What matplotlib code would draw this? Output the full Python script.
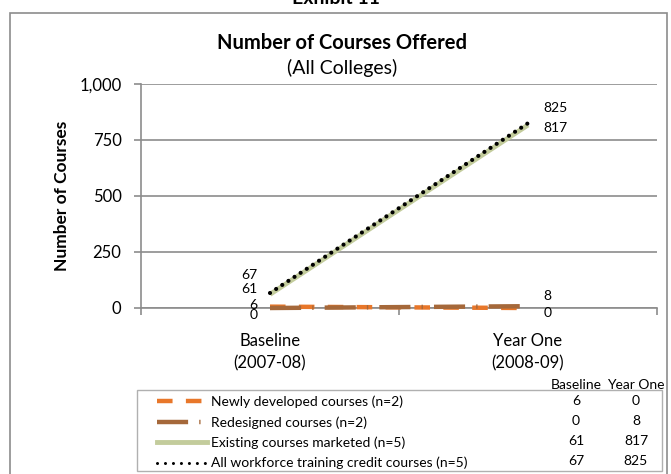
import matplotlib
matplotlib.use("Agg")
import matplotlib.pyplot as plt
from matplotlib.lines import Line2D
from matplotlib.patches import Rectangle

plt.rcParams['font.family'] = ['Lato', 'DejaVu Sans']

categories = ["Baseline\n(2007-08)", "Year One\n(2008-09)"]
col_headers = ["Baseline", "Year One"]
series_names = ["Newly developed courses (n=2)", "Redesigned courses (n=2)",
                "Existing courses marketed (n=5)", "All workforce training credit courses (n=5)"]
newly = [6, 0]
redesigned = [0, 8]
existing = [61, 817]
allcourses = [67, 825]
yticks = [0, 250, 500, 750, 1000]
ytick_labels = ["0", "250", "500", "750", "1,000"]

W, H = 671, 474
fig = plt.figure(figsize=(W / 100, H / 100), dpi=100)

def fx(px):
    return px / W

def fy(py):
    return 1 - py / H

ORANGE = '#E8772A'
BROWN = '#A5683A'
OLIVE = '#C3CC9C'
GRID = '#8c8c8c'
DASH_NEW = (3.5, 3.0)
DASH_RED = (7, 2.5, 0.3, 2.5)

# outer chart frame
fig.patches.append(Rectangle((fx(10), fy(480)), fx(667) - fx(10), fy(13) - fy(480),
                             transform=fig.transFigure, fill=False, edgecolor=GRID, lw=1.2))
fig.text(0.5, fy(3.5), "Exhibit 11", ha='center', va='baseline', fontsize=14, fontweight='bold')

ax = fig.add_axes([fx(141), fy(308), fx(657) - fx(141), fy(84) - fy(308)])

x = [0, 1]
ax.plot(x, newly, color=ORANGE, lw=3.2, dashes=DASH_NEW, solid_capstyle='butt', zorder=3, clip_on=False)
ax.plot(x, redesigned, color=BROWN, lw=3.2, dashes=DASH_RED, zorder=3, clip_on=False)
ax.plot(x, existing, color=OLIVE, lw=3.5, solid_capstyle='butt', zorder=3, clip_on=False)
ax.plot(x, allcourses, color='black', lw=3.0, dashes=(0.01, 1.75), dash_capstyle='round', zorder=4, clip_on=False)

ax.set_xlim(-0.5, 1.5)
ax.set_ylim(0, 1000)
ax.set_yticks(yticks)
ax.set_yticklabels(ytick_labels, fontsize=12)
ax.set_xticks([-0.5, 0.5, 1.5])
ax.set_xticklabels([])
ax.set_xticks(x, minor=True)
ax.set_xticklabels(categories, minor=True, fontsize=12, linespacing=1.45)
ax.tick_params(axis='x', which='minor', length=0, pad=18)
ax.tick_params(axis='x', which='major', length=5, color=GRID, width=1.2)
ax.tick_params(axis='y', length=5, color=GRID, width=1.2, pad=9)
ax.grid(axis='y', color=GRID, lw=1.2)
ax.set_axisbelow(True)
for s in ['top', 'right']:
    ax.spines[s].set_visible(False)
for s in ['left', 'bottom']:
    ax.spines[s].set_color(GRID)
    ax.spines[s].set_linewidth(1.2)
ax.set_ylabel("Number of Courses", fontsize=12.5, fontweight='bold', labelpad=7)

# data labels
lab_fs = 10
base_offsets = {"all": (-9, 13), "existing": (-9, 3.8), "newly": (-9, 1.2), "redesigned": (-9, -5)}
year_offsets = {"all": (11, 11), "existing": (11, -2.5), "newly": (11, -3.8), "redesigned": (11, 7)}
for key, vals in [("all", allcourses), ("existing", existing), ("newly", newly), ("redesigned", redesigned)]:
    ax.annotate(str(vals[0]), (0, vals[0]), xytext=base_offsets[key], textcoords='offset points',
                ha='right', va='center', fontsize=lab_fs)
    ax.annotate(str(vals[1]), (1, vals[1]), xytext=year_offsets[key], textcoords='offset points',
                ha='left', va='center', fontsize=lab_fs)

fig.text(fx(342), fy(43), "Number of Courses Offered", ha='center', va='center', fontsize=14.5, fontweight='bold')
fig.text(fx(342), fy(68), "(All Colleges)", ha='center', va='center', fontsize=14)

# legend with data table
fig.patches.append(Rectangle((fx(137), fy(471)), fx(662) - fx(137), fy(390) - fy(471),
                             transform=fig.transFigure, fill=False, edgecolor='#b0b0b0', lw=1.0))
handles = [
    Line2D([], [], color=ORANGE, lw=3.2, dashes=DASH_NEW, solid_capstyle='butt'),
    Line2D([], [], color=BROWN, lw=3.2, dashes=DASH_RED),
    Line2D([], [], color=OLIVE, lw=3.5),
    Line2D([], [], color='black', lw=2.2, dashes=(0.01, 2.6), dash_capstyle='round'),
]
leg = fig.legend(handles, series_names, loc='upper left', bbox_to_anchor=(fx(157), fy(395.5)),
                 frameon=False, fontsize=10, handlelength=3.6, handletextpad=0.3,
                 labelspacing=0.57, borderpad=0, borderaxespad=0)

row_y = [401, 421, 441, 461]
col_x = [576, 636]
for j, hdr in enumerate(col_headers):
    fig.text(fx(col_x[j]), fy(385), hdr, ha='center', va='center', fontsize=10)
for i, vals in enumerate([newly, redesigned, existing, allcourses]):
    for j in range(2):
        fig.text(fx(col_x[j]), fy(row_y[i]), str(vals[j]), ha='center', va='center', fontsize=10)

fig.savefig("out.png", dpi=100)
